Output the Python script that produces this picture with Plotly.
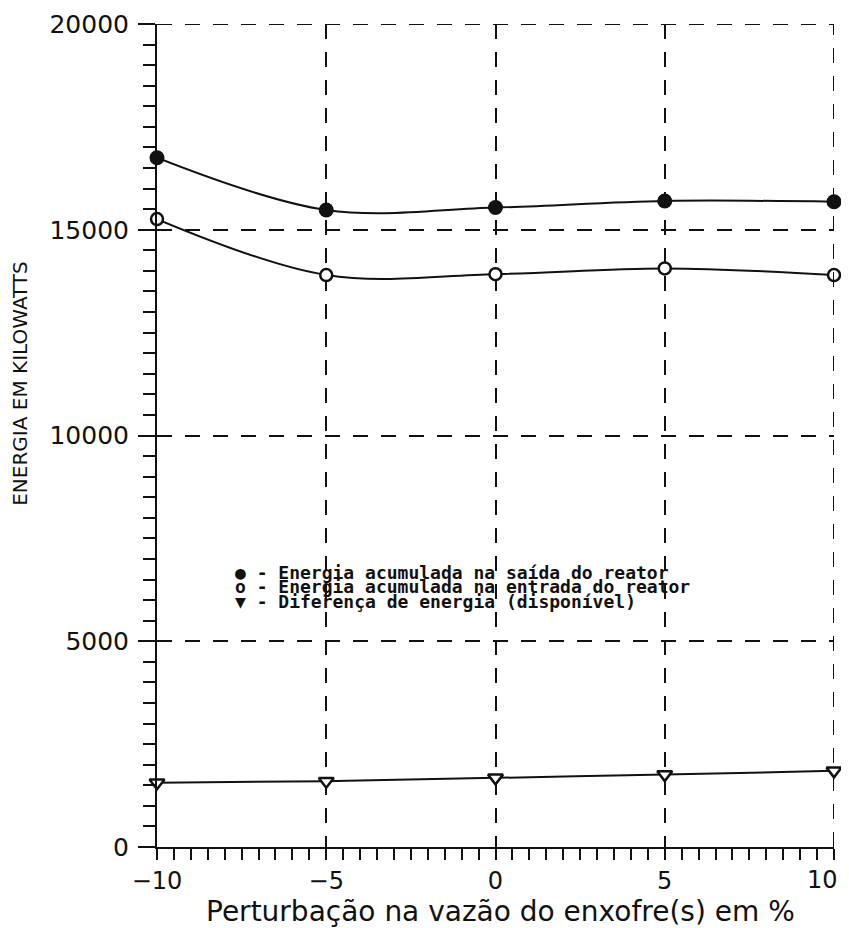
import plotly.graph_objects as go

# Data
perturbacao = [-10, -5, 0, 5, 10]
energia_saida = [16750, 15480, 15540, 15700, 15680]
energia_entrada = [15260, 13900, 13920, 14060, 13900]
diferenca = [1560, 1600, 1680, 1760, 1850]

x_ticks = [-10, -5, 0, 5, 10]
y_ticks = [0, 5000, 10000, 15000, 20000]
x_range = [-10, 10]
y_range = [0, 20000]

legend_lines = [
    "● - Energia acumulada na saída do reator",
    "o - Energia acumulada na entrada do reator",
    "▼ - Diferença de energia (disponível)",
]

INK = "#111111"
DASH = "15px,13px"

fig = go.Figure()

fig.add_trace(go.Scatter(
    x=perturbacao, y=energia_saida, mode="lines+markers",
    line=dict(color=INK, width=2, shape="spline", smoothing=1.0),
    marker=dict(symbol="circle", size=15, color=INK),
    cliponaxis=False, showlegend=False))

fig.add_trace(go.Scatter(
    x=perturbacao, y=energia_entrada, mode="lines+markers",
    line=dict(color=INK, width=2, shape="spline", smoothing=1.0),
    marker=dict(symbol="circle", size=12, color="white", line=dict(color=INK, width=2.5)),
    cliponaxis=False, showlegend=False))

fig.add_trace(go.Scatter(
    x=perturbacao, y=diferenca, mode="lines+markers",
    line=dict(color=INK, width=2, shape="spline", smoothing=1.0),
    marker=dict(symbol="triangle-down", size=13, color="white", line=dict(color=INK, width=2.5)),
    cliponaxis=False, showlegend=False))

# edge grid lines (top and right) that Plotly omits at the range limits
fig.add_shape(type="line", xref="x", yref="y", x0=x_range[0], x1=x_range[1],
              y0=y_range[1], y1=y_range[1], line=dict(color=INK, width=2, dash=DASH))
fig.add_shape(type="line", xref="x", yref="y", x0=x_range[1], x1=x_range[1],
              y0=y_range[0], y1=y_range[1], line=dict(color=INK, width=2, dash=DASH))

legend_y = [0.334, 0.316, 0.298]
for txt, yy in zip(legend_lines, legend_y):
    fig.add_annotation(
        text="<b>" + txt + "</b>", xref="paper", yref="paper",
        x=0.112, y=yy, xanchor="left", yanchor="middle", showarrow=False,
        font=dict(family="DejaVu Sans Mono", size=18, color=INK))

fig.add_annotation(
    text="ENERGIA EM KILOWATTS", xref="paper", yref="paper",
    x=-0.2024, y=0.564, xanchor="center", yanchor="middle", textangle=-90,
    showarrow=False, font=dict(family="DejaVu Sans", size=20, color=INK))

fig.add_annotation(
    text="Perturbação na vazão do enxofre(s) em %", xref="paper", yref="paper",
    x=0.508, y=-0.078, xanchor="center", yanchor="middle",
    showarrow=False, font=dict(family="DejaVu Sans", size=28, color=INK))

tick_text = [str(v).replace("-", "−") for v in x_ticks]
# last x tick label sits at the figure edge, where Plotly drops it: draw it as an annotation
fig.add_annotation(
    text=tick_text[-1], xref="x", yref="paper", x=x_ticks[-1], y=0,
    xanchor="right", yanchor="middle", yshift=-33, xshift=6, showarrow=False,
    font=dict(family="DejaVu Sans", size=24, color=INK))

fig.update_xaxes(
    range=x_range, tickvals=x_ticks[:-1], ticktext=tick_text[:-1],
    showline=True, linecolor=INK, linewidth=2, automargin=False,
    ticks="outside", ticklen=11, tickwidth=2, tickcolor=INK,
    minor=dict(dtick=0.5, tick0=0, ticks="outside", ticklen=11, tickwidth=2, tickcolor=INK, showgrid=False),
    showgrid=True, gridcolor=INK, gridwidth=2, griddash=DASH,
    zeroline=False, ticklabelstandoff=0,
    tickfont=dict(family="DejaVu Sans", size=24, color=INK))

fig.update_yaxes(
    range=y_range, tickvals=y_ticks, ticktext=[str(v) for v in y_ticks],
    showline=True, linecolor=INK, linewidth=2, automargin=False,
    ticks="outside", ticklen=17, tickwidth=2, tickcolor=INK,
    minor=dict(dtick=500, tick0=0, ticks="outside", ticklen=12, tickwidth=2, tickcolor=INK, showgrid=False),
    showgrid=True, gridcolor=INK, gridwidth=2, griddash=DASH,
    zeroline=False, ticklabelstandoff=4,
    tickfont=dict(family="DejaVu Sans", size=25, color=INK))

# page body has an 8px margin: figure offset by 8px inside the 849x928 window
fig.update_layout(
    width=841, height=920,
    margin=dict(l=149, r=15, t=16, b=81),
    paper_bgcolor="white", plot_bgcolor="white",
    showlegend=False)

fig.write_html("out.html")
